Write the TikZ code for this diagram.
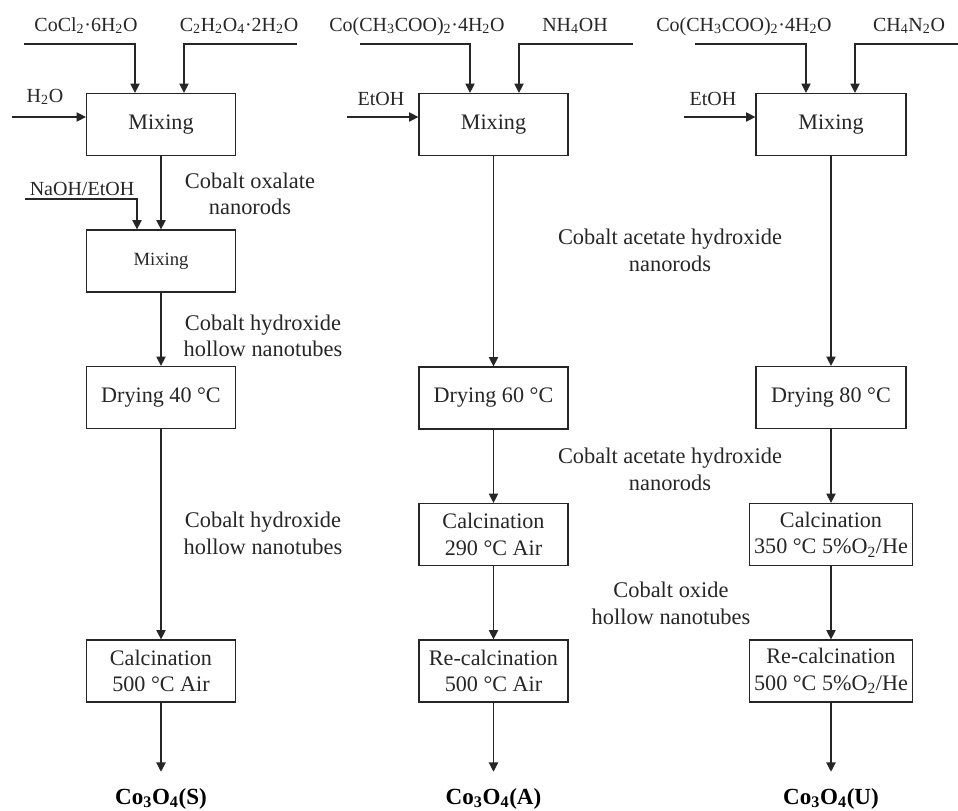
\documentclass[tikz,border=0pt]{standalone}
\usepackage{fontspec}
\setmainfont{Liberation Serif}
\usetikzlibrary{arrows.meta}
\newcommand{\sbs}[1]{\textsubscript{#1}}
\begin{document}
\begin{tikzpicture}[x=0.75pt,y=-0.75pt,
  proc/.style={draw=black!85, line width=0.9pt, minimum width=149*0.75pt, minimum height=62*0.75pt, inner sep=0pt, align=center, text=black!85, font=\fontsize{16.6}{20}\selectfont},
  wide/.style={minimum width=163*0.75pt},
  arr/.style={draw=black!85, line width=0.9pt, -{Triangle[length=7pt,width=7pt]}},
  inl/.style={anchor=base, inner sep=0pt, text=black!85, font=\fontsize{15}{18}\selectfont},
  midl/.style={align=center, inner sep=0pt, text=black!85, font=\fontsize{16.8}{20}\selectfont},
  outl/.style={anchor=base, inner sep=0pt, text=black, font=\fontsize{17.3}{20}\selectfont\bfseries}
]
\useasboundingbox (0,0) rectangle (958,811);

% ---------- Column 1 ----------
\node[proc] (m1) at (161,124.5) {Mixing};
\node[proc, font=\fontsize{14}{17}\selectfont] (n1) at (161,261) {Mixing};
\node[proc] (d1) at (161,397.5) {Drying 40 °C};
\node[proc] (c1) at (161,671) {Calcination\\500 °C Air};
\node[outl] (o1) at (161,804) {Co\sbs{3}O\sbs{4}(S)};

\coordinate (a1s) at (24,44); \coordinate (a1c) at (135,44);
\draw[arr] (a1s) -- (a1c) -- (a1c |- m1.north);
\node[inl] (t1) at (86,31) {CoCl\sbs{2}·6H\sbs{2}O};
\coordinate (b1s) at (297,44); \coordinate (b1c) at (184,44);
\draw[arr] (b1s) -- (b1c) -- (b1c |- m1.north);
\node[inl] (u1) at (239,31) {C\sbs{2}H\sbs{2}O\sbs{4}·2H\sbs{2}O};
\coordinate (w1s) at (12,117);
\draw[arr] (w1s) -- (w1s -| m1.west);
\node[inl] (h1) at (45,102) {H\sbs{2}O};
\coordinate (e1s) at (25,199); \coordinate (e1c) at (137,199);
\draw[arr] (e1s) -- (e1c) -- (e1c |- n1.north);
\node[inl] (k1) at (82,195) {NaOH/EtOH};

\draw[arr] (m1) -- (n1);
\draw[arr] (n1) -- (d1);
\draw[arr] (d1) -- (c1);
\draw[arr, shorten >=12pt] (c1) -- (o1);

\node[midl] (l1) at (250,194) {Cobalt oxalate\\nanorods};
\node[midl] (l2) at (263,336) {Cobalt hydroxide\\hollow nanotubes};
\node[midl] (l3) at (263,533) {Cobalt hydroxide\\hollow nanotubes};

% ---------- Column 2 ----------
\node[proc] (m2) at (493.5,124.5) {Mixing};
\node[proc] (d2) at (493.5,398) {Drying 60 °C};
\node[proc] (c2) at (493.5,534.5) {Calcination\\290 °C Air};
\node[proc] (r2) at (493.5,671) {Re-calcination\\500 °C Air};
\node[outl] (o2) at (493.5,804) {Co\sbs{3}O\sbs{4}(A)};

\coordinate (a2s) at (360,44); \coordinate (a2c) at (470,44);
\draw[arr] (a2s) -- (a2c) -- (a2c |- m2.north);
\node[inl] (t2) at (417,31) {Co(CH\sbs{3}COO)\sbs{2}·4H\sbs{2}O};
\coordinate (b2s) at (633,44); \coordinate (b2c) at (519,44);
\draw[arr] (b2s) -- (b2c) -- (b2c |- m2.north);
\node[inl] (u2) at (575,31) {NH\sbs{4}OH};
\coordinate (w2s) at (347,117);
\draw[arr] (w2s) -- (w2s -| m2.west);
\node[inl] (h2) at (381,105) {EtOH};

\draw[arr] (m2) -- (d2);
\draw[arr] (d2) -- (c2);
\draw[arr] (c2) -- (r2);
\draw[arr, shorten >=12pt] (r2) -- (o2);

\node[midl] (l4) at (670,250) {Cobalt acetate hydroxide\\nanorods};
\node[midl] (l5) at (670,469) {Cobalt acetate hydroxide\\nanorods};
\node[midl] (l6) at (671,603) {Cobalt oxide\\hollow nanotubes};

% ---------- Column 3 ----------
\node[proc, minimum width=150*0.75pt] (m3) at (831,124.5) {Mixing};
\node[proc, minimum width=150*0.75pt] (d3) at (831,397.5) {Drying 80 °C};
\node[proc, wide] (c3) at (831,534.5) {Calcination\\350 °C 5\%O\sbs{2}/He};
\node[proc, wide] (r3) at (831,671) {Re-calcination\\500 °C 5\%O\sbs{2}/He};
\node[outl] (o3) at (831,804) {Co\sbs{3}O\sbs{4}(U)};

\coordinate (a3s) at (695,44); \coordinate (a3c) at (806,44);
\draw[arr] (a3s) -- (a3c) -- (a3c |- m3.north);
\node[inl] (t3) at (744,31) {Co(CH\sbs{3}COO)\sbs{2}·4H\sbs{2}O};
\coordinate (b3s) at (958,44); \coordinate (b3c) at (855,44);
\draw[arr] (b3s) -- (b3c) -- (b3c |- m3.north);
\node[inl] (u3) at (909,31) {CH\sbs{4}N\sbs{2}O};
\coordinate (w3s) at (684,117);
\draw[arr] (w3s) -- (w3s -| m3.west);
\node[inl] (h3) at (713,105) {EtOH};

\draw[arr] (m3) -- (d3);
\draw[arr] (d3) -- (c3);
\draw[arr] (c3) -- (r3);
\draw[arr, shorten >=12pt] (r3) -- (o3);
\end{tikzpicture}
\end{document}
